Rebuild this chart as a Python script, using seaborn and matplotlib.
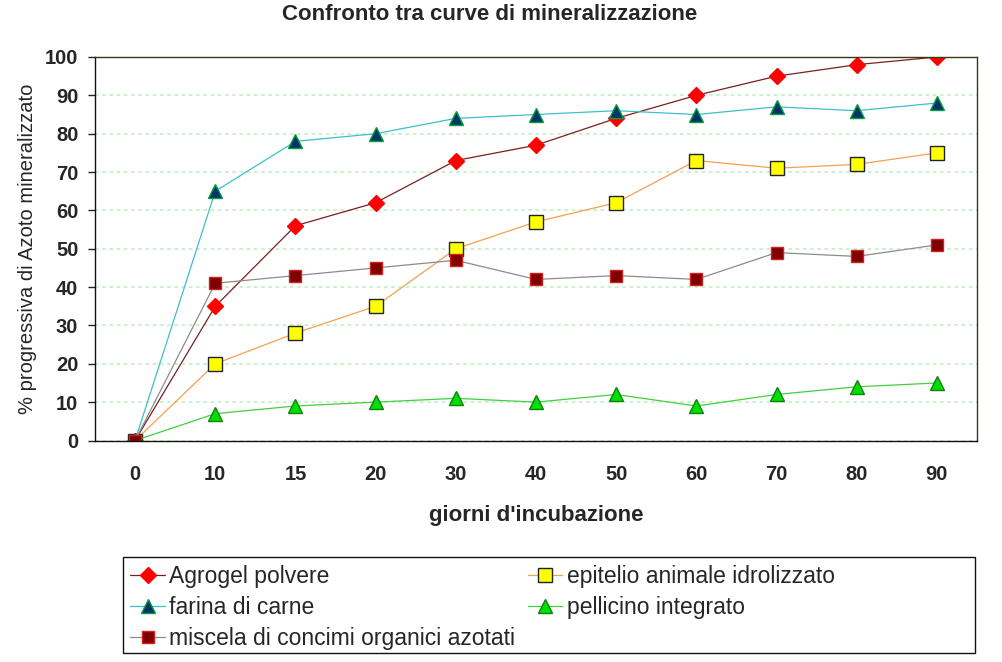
import matplotlib
matplotlib.use("Agg")
import matplotlib.pyplot as plt
import seaborn as sns
import pandas as pd
import numpy as np
from matplotlib.patches import Rectangle

days = ["0", "10", "15", "20", "30", "40", "50", "60", "70", "80", "90"]
agrogel = [0, 35, 56, 62, 73, 77, 84, 90, 95, 98, 100]
epitelio = [0, 20, 28, 35, 50, 57, 62, 73, 71, 72, 75]
farina = [0, 65, 78, 80, 84, 85, 86, 85, 87, 86, 88]
pellicino = [0, 7, 9, 10, 11, 10, 12, 9, 12, 14, 15]
miscela = [0, 41, 43, 45, 47, 42, 43, 42, 49, 48, 51]

series_names = ["Agrogel polvere", "epitelio animale idrolizzato", "farina di carne",
                "pellicino integrato", "miscela di concimi organici azotati"]
series_values = [agrogel, epitelio, farina, pellicino, miscela]

styles = {
    "Agrogel polvere": dict(color="#7A1F1F", marker="D", mfc="#FF0000", mec="#FF0000", ms=8),
    "epitelio animale idrolizzato": dict(color="#F5A050", marker="s", mfc="#FFFF00", mec="#222222", ms=10),
    "farina di carne": dict(color="#3CC0C8", marker="^", mfc="#003366", mec="#00A040", ms=10),
    "pellicino integrato": dict(color="#40D040", marker="^", mfc="#00E000", mec="#108010", ms=10),
    "miscela di concimi organici azotati": dict(color="#8C8C8C", marker="s", mfc="#800000", mec="#D02020", ms=9),
}

sns.set_theme(style="white")
plt.rcParams["font.family"] = ["Liberation Sans", "DejaVu Sans"]

fig = plt.figure(figsize=(10.02, 6.62), dpi=100)
ax = fig.add_axes([95 / 1002, 1 - 440.5 / 662, (977 - 95) / 1002, (440.5 - 57) / 662])

pos = np.arange(len(days))
handles = {}
for name, vals in zip(series_names, series_values):
    st = styles[name]
    sns.lineplot(x=pos, y=vals, ax=ax, color=st["color"], linewidth=0.9,
                 marker=st["marker"], markerfacecolor=st["mfc"], markeredgecolor=st["mec"],
                 markersize=st["ms"], markeredgewidth=1.0, label=name, legend=False)
    handles[name] = ax.lines[-1]

ax.set_xlim(-0.5, len(days) - 0.5)
ax.set_ylim(0, 100)
ax.set_yticks(range(0, 101, 10))
ax.set_yticklabels([str(v) for v in range(0, 101, 10)], fontsize=14.5, fontweight="bold")
ax.set_xticks(pos)
ax.set_xticklabels(days, fontsize=14.5, fontweight="bold")
ax.set_xticks(np.arange(-0.5, len(days), 1.0), minor=True)
ax.tick_params(axis="x", which="major", length=0, pad=18)
ax.tick_params(axis="x", which="minor", length=5, width=1, color="#222222", direction="out")
ax.tick_params(axis="y", which="major", length=5, width=1, color="#222222", direction="out", pad=7, left=True)

ax.yaxis.grid(True, color="#C8F0C8", linestyle=(0, (2, 2)), linewidth=1.3)
ax.xaxis.grid(False)
for s in ["left", "bottom"]:
    ax.spines[s].set_color("#111111")
    ax.spines[s].set_linewidth(1.0)
for s in ["top", "right"]:
    ax.spines[s].set_color("#3A3A10")
    ax.spines[s].set_linewidth(1.0)

ax.set_xlabel("giorni d'incubazione", fontsize=16, fontweight="bold", labelpad=15)
ax.set_ylabel("% progressiva di Azoto mineralizzato", fontsize=14.5, labelpad=6)

fig.text(490 / 1002, 1 - 14 / 662, "Confronto tra curve di mineralizzazione",
         ha="center", va="center", fontsize=16, fontweight="bold")

# legend frame
fig.patches.append(Rectangle((123 / 1002, 1 - 653 / 662), (975 - 123) / 1002, (653 - 557) / 662,
                             transform=fig.transFigure, fill=False, edgecolor="#111111",
                             linewidth=1.0, zorder=5))
order = ["Agrogel polvere", "farina di carne", "miscela di concimi organici azotati",
         "epitelio animale idrolizzato", "pellicino integrato"]
leg = fig.legend([handles[n] for n in order], order, loc="upper left",
                 bbox_to_anchor=(127 / 1002, 1 - 562 / 662), ncol=2, frameon=False,
                 fontsize=16.5, handlelength=1.5, handletextpad=0.2, columnspacing=0.55,
                 labelspacing=0.33, borderaxespad=0, borderpad=0.15)

fig.savefig("out.png", dpi=100)
